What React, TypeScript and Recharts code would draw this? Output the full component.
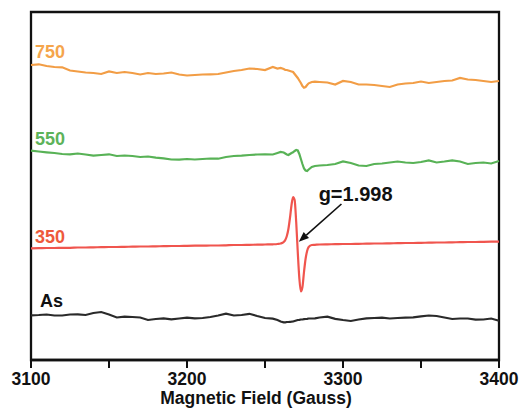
import React from 'react';
import { LineChart, Line, XAxis, YAxis, ReferenceArea, ReferenceDot, ReferenceLine } from 'recharts';

// magnetic field grid (Gauss), finer steps across the resonance
const fields = [
  3100, 3105, 3110, 3115, 3120, 3125, 3130, 3135, 3140, 3145, 3150, 3155, 3160, 3165, 3170, 3175,
  3180, 3185, 3190, 3195, 3200, 3205, 3210, 3215, 3220, 3225, 3230, 3235, 3240, 3245, 3250, 3255,
  3258, 3260, 3262, 3263, 3264, 3265, 3266, 3267, 3268, 3269, 3270, 3271, 3272, 3273, 3274, 3275,
  3276, 3277, 3278, 3280, 3282,
  3285, 3290, 3295, 3300, 3305, 3310, 3315, 3320, 3325, 3330, 3335, 3340, 3345, 3350, 3355, 3360,
  3365, 3370, 3375, 3380, 3385, 3390, 3395, 3400,
];

// EPR signal of each sample (a.u.), before vertical stacking
const signal750 = [
  10, 10.7, 9, 8, 7.7, 4.5, 3.5, 2.5, 2, 1, 3.5, 2, 3, 2, 0.5, 2,
  1, 1.5, 2.5, 0.5, -0.5, 0, 0.5, 0.7, 1, 2.5, 4, 5, 6.5, 6, 5, 8,
  6.5, 7, 6, 5, 5, 4.5, 4, 3.5, 3, 1, -1, -3, -5.5, -8, -11, -12.7,
  -12, -10, -8.3, -7, -6.7,
  -7, -7.5, -9.5, -6, -7, -9.5, -9.5, -10, -11, -12, -9.5, -8.5, -8, -6.5, -8, -7,
  -6, -5.5, -3, -4.5, -5, -6, -7, -6,
];
const signal550 = [
  4.3, 3.5, 2.7, 2, 1, 0.7, 1.5, 0.5, -0.7, 0, 0.7, -1, -0.5, -1, -2, -1.5,
  -2.7, -3.3, -4.5, -4.7, -4, -4.5, -4, -3.5, -3.7, -2, -1, -0.7, 0, 0.5, 0.7, 0.5,
  2, 3, 2.5, 1.5, 0.5, 0, 1, 2, 2.7, 4, 5, 4.5, 1, -4, -9, -13.5,
  -15.5, -16, -14.5, -12, -11,
  -10.5, -10, -9, -6.5, -8, -10.5, -11, -9, -8.5, -7.5, -6.5, -7.5, -8, -7, -5.5, -7.5,
  -6.5, -5.3, -6.5, -9, -8, -7.5, -8.5, -6,
];
const signal350 = [
  -3.3, -3.2, -3, -3, -2.8, -2.8, -2.5, -2.5, -2.3, -2.2, -2, -2, -1.8, -1.7, -1.5, -1.5,
  -1.3, -1.2, -1, -1, -0.8, -0.7, -0.7, -0.5, -0.5, -0.3, 0, 0, 0.2, 0.3, 0.5, 0.7,
  1, 1.5, 3, 5, 9, 16, 27, 40, 48, 45, 23, -7, -33, -46.5, -42, -27,
  -14, -6, -2, 0, 0.2,
  0.5, 0.7, 0.8, 1, 1, 1.2, 1.3, 1.5, 1.5, 1.7, 1.8, 2, 2, 2.2, 2.3, 2.5,
  2.5, 2.7, 2.8, 3, 3, 3.2, 3.3, 3.3,
];
const signalAs = [
  2.7, 3, 3.5, 2.5, 2.5, 3.5, 3.7, 3, 5, 6, 3.5, 0.5, 1.3, 1, 0.5, -2,
  -1, -0.3, -1.3, -0.5, 0.3, -0.3, 0, 1, 2.5, 4.3, 2.5, 3, 4.2, 2, 0, -0.7,
  -2, -3.5, -4.3, -4.3, -4, -4, -3.8, -3.7, -3.5, -3, -2.5, -2, -1.8, -1.5, -1.5, -1.2,
  -1, -0.8, -0.5, -0.5, -0.3,
  0.5, 1.3, -0.8, -2, -3, -1.5, -0.3, 0, 0.3, -0.5, 0, 0.3, 0.7, 1.7, 2.5, 2,
  0.5, -1, -0.5, -0.5, -1.7, -1.5, -0.5, -2.7,
];

// vertical offsets used to stack the spectra
const offset750 = 285;
const offset550 = 205;
const offset350 = 115;
const offsetAs = 42;

const xTicks = [3100, 3150, 3200, 3250, 3300, 3350, 3400];

const chartData = fields.map((f, i) => ({
  field: f,
  s750: signal750[i] + offset750,
  s550: signal550[i] + offset550,
  s350: signal350[i] + offset350,
  sAs: signalAs[i] + offsetAs,
}));

const FONT = 'Arial, "Liberation Sans", sans-serif';

// labels only on the 100 G ticks
const FieldTick = (props: any) => {
  const { x, y, payload } = props;
  if (payload.value % 100 !== 0) return <g />;
  return (
    <text x={x} y={y + 17} textAnchor="middle" fontFamily={FONT} fontWeight="bold" fontSize={17.5} fill="#111">
      {payload.value}
    </text>
  );
};

const Arrow = (props: any) => {
  const { x1, y1, x2, y2 } = props;
  const ang = Math.atan2(y2 - y1, x2 - x1);
  const len = 10;
  const w = 4;
  const bx = x2 - len * Math.cos(ang);
  const by = y2 - len * Math.sin(ang);
  const pts = `${x2},${y2} ${bx + w * Math.sin(ang)},${by - w * Math.cos(ang)} ${bx - w * Math.sin(ang)},${by + w * Math.cos(ang)}`;
  return (
    <g>
      <line x1={x1} y1={y1} x2={bx} y2={by} stroke="#111" strokeWidth={1.6} />
      <polygon points={pts} fill="#111" />
    </g>
  );
};

const textShape = (label: string, color: string, size: number) => (p: any) => (
  <text x={p.cx} y={p.cy} fontFamily={FONT} fontSize={size} fontWeight="bold" fill={color}>
    {label}
  </text>
);

const App: React.FC = () => {
  return (
    <div style={{ width: 513, height: 400 }}>
      <LineChart width={513} height={400} data={chartData} margin={{ top: 4, right: 22, left: 23, bottom: 0 }}>
        <XAxis
          dataKey="field"
          type="number"
          domain={[3100, 3400]}
          ticks={xTicks}
          interval={0}
          axisLine={{ stroke: '#111', strokeWidth: 2.3 }}
          tickLine={{ stroke: '#111', strokeWidth: 2 }}
          tickSize={8}
          tickMargin={0}
          height={48}
          tick={<FieldTick />}
          label={(p: any) => {
            const vb = p.viewBox;
            return (
              <text x={vb.x + vb.width / 2 - 9} y={vb.y + 44} textAnchor="middle" fontFamily={FONT} fontWeight="bold" fontSize={17.5} fill="#111">
                Magnetic Field (Gauss)
              </text>
            );
          }}
        />
        <YAxis hide type="number" domain={[0, 348]} />
        <ReferenceArea x1={3100} x2={3400} y1={0} y2={348} fill="none" stroke="#111" strokeWidth={2.3} />
        <Line type="linear" dataKey="s750" stroke="#F29D45" strokeWidth={2.2} dot={false} isAnimationActive={false} />
        <Line type="linear" dataKey="s550" stroke="#58B256" strokeWidth={2.2} dot={false} isAnimationActive={false} />
        <Line type="monotone" dataKey="s350" stroke="#F0554E" strokeWidth={2.2} dot={false} isAnimationActive={false} />
        <Line type="linear" dataKey="sAs" stroke="#2A2A2A" strokeWidth={2.2} dot={false} isAnimationActive={false} />
        <ReferenceDot x={3102.6} y={302} r={0} shape={textShape('750', '#F5A54C', 18)} />
        <ReferenceDot x={3102.6} y={215} r={0} shape={textShape('550', '#5DB35A', 18)} />
        <ReferenceDot x={3102.6} y={117} r={0} shape={textShape('350', '#EE5A3C', 18)} />
        <ReferenceDot x={3105.8} y={53} r={0} shape={textShape('As', '#111', 18)} />
        <ReferenceDot x={3284.4} y={159.3} r={0} shape={textShape('g=1.998', '#111', 20)} />
        <ReferenceLine segment={[{ x: 3299, y: 156 }, { x: 3271.7, y: 118.3 }]} shape={<Arrow />} />
      </LineChart>
    </div>
  );
};

export default App;
